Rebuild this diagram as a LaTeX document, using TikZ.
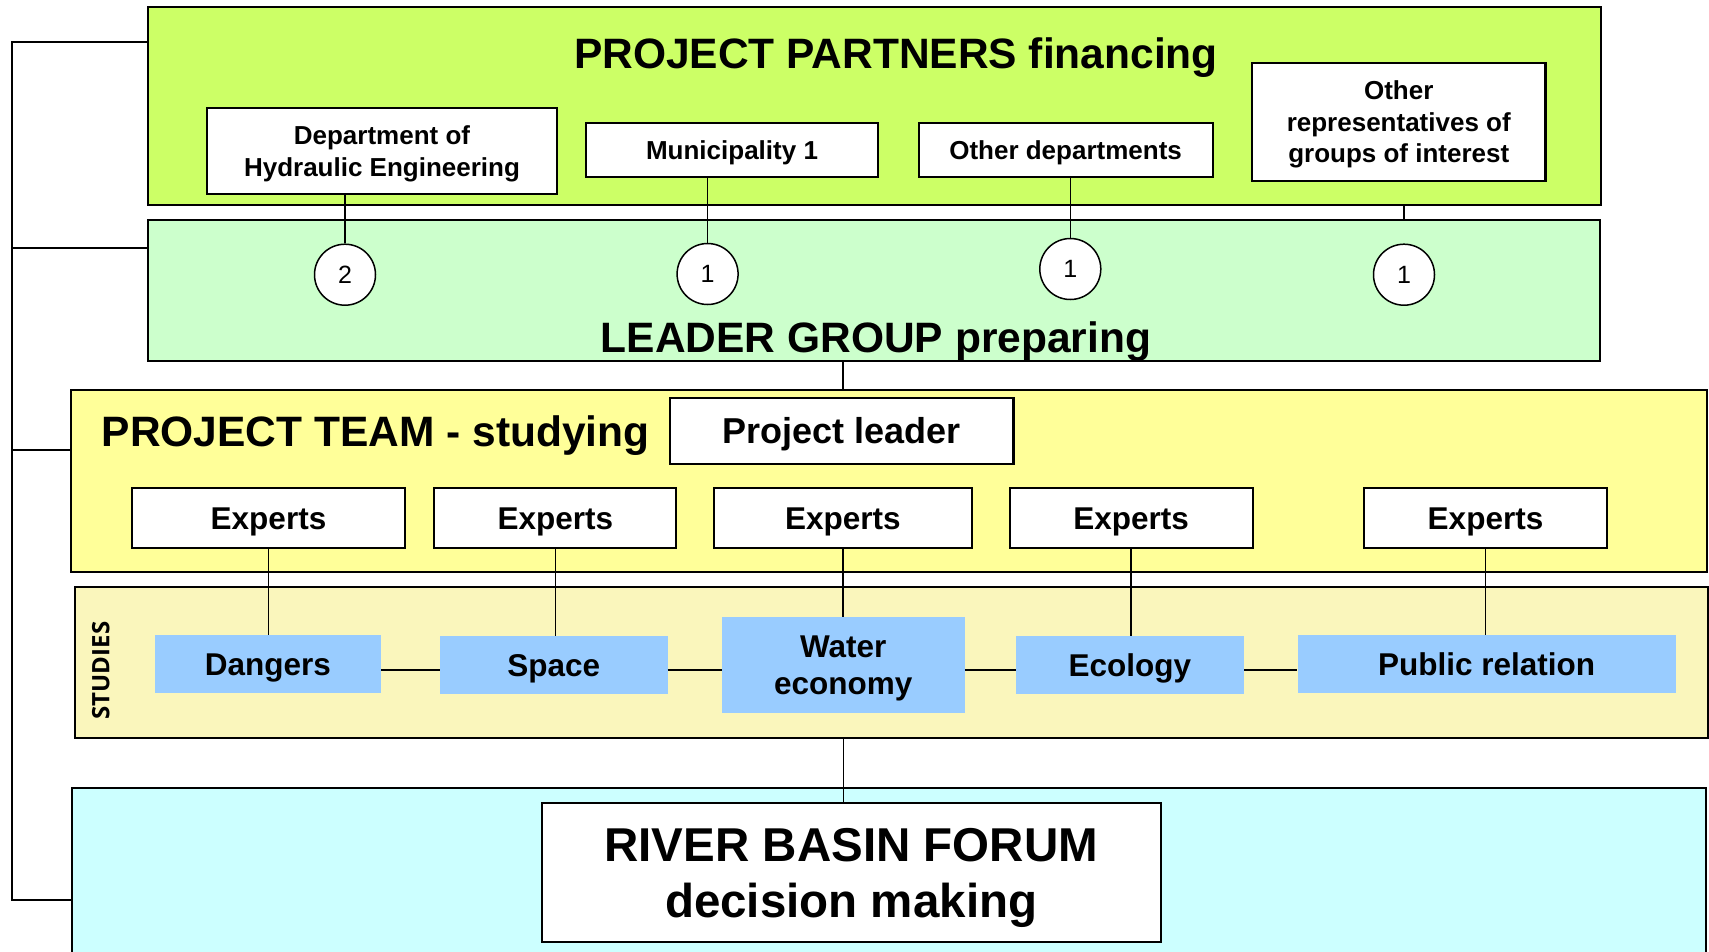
\documentclass[tikz,border=0pt]{standalone}
\usepackage{fontspec}
\setmainfont{Liberation Sans}
\newfontfamily\studfont{Open Sans}
\definecolor{cPart}{HTML}{CCFF66}
\definecolor{cLead}{HTML}{CCFFCC}
\definecolor{cTeam}{HTML}{FFFF99}
\definecolor{cStud}{HTML}{FAF6BC}
\definecolor{cBlue}{HTML}{99CCFF}
\definecolor{cForum}{HTML}{CCFFFF}
\begin{document}
\begin{tikzpicture}[x=1pt,y=-1pt,
  bg/.style={draw=black, line width=2pt, rectangle, inner sep=0pt},
  title/.style={inner sep=0pt, font=\bfseries\fontsize{42.5}{50}\selectfont},
  wbox/.style={draw=black, line width=2.2pt, fill=white, inner sep=0pt, align=center,
    font=\bfseries\fontsize{26}{31.5}\selectfont},
  cap26/.style={text height=18.6pt, text depth=0pt},
  circ/.style={circle, draw=black, line width=1.5pt, fill=white, minimum size=61pt,
    inner sep=0pt, font=\fontsize{25}{30}\selectfont, text height=17.9pt, text depth=0pt},
  expbox/.style={draw=black, line width=2.2pt, fill=white, inner sep=0pt,
    minimum height=60.6pt, font=\bfseries\fontsize{31.5}{37}\selectfont,
    text height=22.5pt, text depth=0pt},
  study/.style={fill=cBlue, inner sep=0pt, align=center,
    font=\bfseries\fontsize{31.5}{37.3}\selectfont},
  conn/.style={draw=black, line width=1.5pt},
  spine/.style={draw=black, line width=2pt}
]
\useasboundingbox (0,0) rectangle (1709,951);
\fill[white] (0,0) rectangle (1709,951);

% background panels
\node[bg, fill=cPart, minimum width=1453pt, minimum height=198pt] (partners) at (874.5,106) {};
\node[bg, fill=cLead, minimum width=1452pt, minimum height=141pt] (leader) at (874,290.5) {};
\node[bg, fill=cTeam, minimum width=1636pt, minimum height=182pt] (team) at (889,481) {};
\node[bg, fill=cStud, minimum width=1633pt, minimum height=151pt] (studies) at (891.5,662.5) {};
\node[bg, fill=cForum, minimum width=1634pt, minimum height=172pt] (forum) at (889,874) {};

% titles
\node[title, anchor=base] (ptitle) at (896,68.5) {PROJECT PARTNERS financing};
\node[title, anchor=base] (ltitle) at (876,352) {LEADER GROUP preparing};
\node[title, anchor=base west] (ttitle) at (101.5,446) {PROJECT TEAM - studying};

% partners
\node[wbox, minimum width=350pt, minimum height=86pt, text height=50.1pt, text depth=0pt] (dept) at (382,151) {Department of\\Hydraulic Engineering};
\node[wbox, cap26, minimum width=292pt, minimum height=54pt] (muni) at (732,150) {Municipality 1};
\node[wbox, cap26, minimum width=294pt, minimum height=54pt] (otherdep) at (1065.6,150) {Other departments};
\node[wbox, minimum width=293.5pt, minimum height=118pt, text height=81.6pt, text depth=0pt] (reps) at (1398.75,122) {Other\\representatives of\\groups of interest};

% circles
\node[circ] (c2) at (345,274.7) {2};
\node[circ] (c1a) at (707.6,274) {1};
\node[circ] (c1b) at (1070.3,269) {1};
\node[circ] (c1c) at (1404,274.7) {1};

% project team
\node[wbox, minimum width=343.5pt, minimum height=66.3pt,
  font=\bfseries\fontsize{36}{42}\selectfont, text height=25.8pt, text depth=0pt] (pleader) at (841.75,431) {Project leader};
\node[expbox, minimum width=273pt] (e1) at (268.5,518) {Experts};
\node[expbox, minimum width=242pt] (e2) at (555.35,518) {Experts};
\node[expbox, minimum width=257.8pt] (e3) at (842.9,518) {Experts};
\node[expbox, minimum width=243pt] (e4) at (1131.1,518) {Experts};
\node[expbox, minimum width=243pt] (e5) at (1485.5,518) {Experts};

% studies
\node[rotate=90, inner sep=0pt, font=\studfont\bfseries\fontsize{24}{28}\selectfont] (stlabel) at (100.7,670.5) {STUDIES};
\node[study, minimum width=226pt, minimum height=57.7pt, text height=22.5pt, text depth=0pt] (dang) at (268,663.85) {Dangers};
\node[study, minimum width=227.5pt, minimum height=57.7pt, text height=22.5pt, text depth=0pt] (space) at (553.75,664.85) {Space};
\node[study, minimum width=242.6pt, minimum height=95.7pt, text height=59.8pt, text depth=0pt] (water) at (843.3,664.85) {Water\\economy};
\node[study, minimum width=227.8pt, minimum height=57.7pt, text height=22.5pt, text depth=0pt] (eco) at (1129.9,664.85) {Ecology};
\node[study, minimum width=378pt, minimum height=57.7pt, text height=22.5pt, text depth=0pt] (pub) at (1486.55,663.85) {Public relation};

% forum
\node[wbox, minimum width=619pt, minimum height=138.4pt,
  font=\bfseries\fontsize{47.5}{56.6}\selectfont, text height=90.6pt, text depth=0pt] (finner) at (851.2,872.5) {RIVER BASIN FORUM\\decision making};

% connectors
\coordinate (s1) at (12,42);
\coordinate (s2) at (12,248);
\coordinate (s3) at (12,450);
\coordinate (s4) at (12,900);
\coordinate (hl) at (0,670);
\draw[spine] (partners.west |- s1) -- (s1) -- (s4) -- (forum.west |- s4);
\draw[spine] (s2) -- (leader.west |- s2);
\draw[spine] (s3) -- (team.west |- s3);

\draw[conn] (dept.south -| c2) -- (c2.north);
\draw[conn] (muni.south -| c1a) -- (c1a.north);
\draw[conn] (otherdep.south -| c1b) -- (c1b.north);
\draw[conn] (partners.south -| c1c) -- (leader.north -| c1c);
\draw[conn] (leader.south -| e3) -- (team.north -| e3);

\draw[conn] (e1.south) -- (e1.south |- dang.north);
\draw[conn] (e2.south) -- (e2.south |- space.north);
\draw[conn] (e3.south) -- (e3.south |- water.north);
\draw[conn] (e4.south) -- (e4.south |- eco.north);
\draw[conn] (e5.south) -- (e5.south |- pub.north);

\draw[conn] (dang.east |- hl) -- (space.west |- hl);
\draw[conn] (space.east |- hl) -- (water.west |- hl);
\draw[conn] (water.east |- hl) -- (eco.west |- hl);
\draw[conn] (eco.east |- hl) -- (pub.west |- hl);

\draw[conn] (studies.south -| water) -- (finner.north -| water);
\end{tikzpicture}
\end{document}
